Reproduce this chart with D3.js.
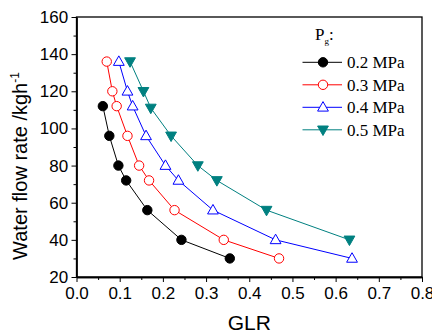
<!DOCTYPE html>
<html><head><meta charset="utf-8">
<script src="https://cdn.jsdelivr.net/npm/d3@7"></script>
<style>body{margin:0;background:#fff}</style>
</head><body>
<svg id="c" width="432" height="336"></svg>
<script>
// Data
const seriesNames = ["0.2 MPa", "0.3 MPa", "0.4 MPa", "0.5 MPa"];
const glr02 = [0.061, 0.076, 0.097, 0.115, 0.164, 0.243, 0.355];
const wfr02 = [112, 96, 80, 72, 56, 40, 30];
const glr03 = [0.070, 0.083, 0.093, 0.118, 0.145, 0.168, 0.227, 0.341, 0.469];
const wfr03 = [136, 120, 112, 96, 80, 72, 56, 40, 30];
const glr04 = [0.098, 0.118, 0.130, 0.161, 0.206, 0.236, 0.316, 0.461, 0.638];
const wfr04 = [136, 120, 112, 96, 80, 72, 56, 40, 30];
const glr05 = [0.124, 0.155, 0.172, 0.219, 0.281, 0.325, 0.440, 0.632];
const wfr05 = [136, 120, 111, 96, 80, 72, 56, 40];
const xTicks = [0.0, 0.1, 0.2, 0.3, 0.4, 0.5, 0.6, 0.7, 0.8];
const yTicks = [20, 40, 60, 80, 100, 120, 140, 160];

const series = [
  {name: seriesNames[0], x: glr02, y: wfr02, color: "#000000", sym: "circle", fill: true},
  {name: seriesNames[1], x: glr03, y: wfr03, color: "#ff0000", sym: "circle", fill: false},
  {name: seriesNames[2], x: glr04, y: wfr04, color: "#0000ff", sym: "up", fill: false},
  {name: seriesNames[3], x: glr05, y: wfr05, color: "#008080", sym: "down", fill: true}
];

const L = 76.5, R = 422, T = 17, B = 277;
const svg = d3.select("#c");
const x = d3.scaleLinear().domain([0, 0.8]).range([L, R]);
const y = d3.scaleLinear().domain([20, 160]).range([B, T]);

// frame
svg.append("rect").attr("x", L).attr("y", T).attr("width", R - L).attr("height", B - T)
  .attr("fill", "none").attr("stroke", "#000").attr("stroke-width", 1.3);

const sans = "Liberation Sans, Arial, sans-serif";
const serif = "Liberation Serif, Times New Roman, serif";

// axes
const xAxis = svg.append("g").attr("transform", `translate(0,${B})`)
  .call(d3.axisBottom(x).tickValues(xTicks).tickFormat(d3.format(".1f")).tickSize(5).tickSizeOuter(0));
const xMinor = svg.append("g").attr("transform", `translate(0,${B})`)
  .call(d3.axisBottom(x).tickValues(d3.range(0.05, 0.8, 0.1)).tickFormat("").tickSize(3).tickSizeOuter(0));
const yAxis = svg.append("g").attr("transform", `translate(${L},0)`)
  .call(d3.axisLeft(y).tickValues(yTicks).tickSize(5).tickSizeOuter(0));
const yMinor = svg.append("g").attr("transform", `translate(${L},0)`)
  .call(d3.axisLeft(y).tickValues(d3.range(30, 160, 20)).tickFormat("").tickSize(3).tickSizeOuter(0));
[xAxis, xMinor, yAxis, yMinor].forEach(g => {
  g.select(".domain").attr("stroke", "#000").attr("stroke-width", 1.3);
  g.selectAll(".tick line").attr("stroke", "#000").attr("stroke-width", 1);
  g.selectAll("text").attr("font-family", sans).attr("font-size", 17).attr("fill", "#000");
});
xAxis.selectAll("text").attr("dy", "0.8em");
yAxis.selectAll("text").attr("dx", "-0.02em");

// titles
svg.append("text").attr("x", (L + R) / 2).attr("y", 330).attr("text-anchor", "middle")
  .attr("font-family", sans).attr("font-size", 21).text("GLR");
const yl = svg.append("text").attr("transform", "translate(27,166) rotate(-90)").attr("text-anchor", "middle")
  .attr("font-family", sans).attr("font-size", 20);
yl.append("tspan").text("Water flow rate /kgh");
yl.append("tspan").attr("font-size", 12).attr("dy", -8).text("-1");

// marker generators
function drawMarker(g, s, cx, cy) {
  const fill = s.fill ? s.color : "#fff";
  if (s.sym === "circle") {
    g.append("circle").attr("cx", cx).attr("cy", cy).attr("r", 4.7)
      .attr("fill", fill).attr("stroke", s.color).attr("stroke-width", 1);
  } else {
    const w = 5.4, h = 9.5;
    const pts = s.sym === "up"
      ? [[cx, cy - h * 0.6], [cx - w, cy + h * 0.4], [cx + w, cy + h * 0.4]]
      : [[cx, cy + h * 0.6], [cx - w, cy - h * 0.4], [cx + w, cy - h * 0.4]];
    g.append("polygon").attr("points", pts.map(p => p.join(",")).join(" "))
      .attr("fill", fill).attr("stroke", s.color).attr("stroke-width", 1);
  }
}

const line = d3.line().x(d => x(d[0])).y(d => y(d[1]));
series.forEach(s => {
  const pts = s.x.map((v, i) => [v, s.y[i]]);
  const g = svg.append("g");
  g.append("path").attr("d", line(pts)).attr("fill", "none").attr("stroke", s.color).attr("stroke-width", 1);
  pts.forEach(p => drawMarker(g, s, x(p[0]), y(p[1])));
});

// legend
const lg = svg.append("g");
const lt = lg.append("text").attr("x", 315).attr("y", 40).attr("font-family", serif).attr("font-size", 17);
lt.append("tspan").text("P");
lt.append("tspan").attr("font-size", 9).attr("dy", 4).text("g");
lt.append("tspan").attr("dy", -4).text(":");
series.forEach((s, i) => {
  const yy = 62.3 + i * 22.5;
  lg.append("line").attr("x1", 302.5).attr("x2", 342).attr("y1", yy).attr("y2", yy)
    .attr("stroke", s.color).attr("stroke-width", 1);
  drawMarker(lg, s, 323, yy);
  lg.append("text").attr("x", 347).attr("y", yy + 5.8).attr("font-family", serif).attr("font-size", 17)
    .text(s.name);
});
</script>
</body></html>
